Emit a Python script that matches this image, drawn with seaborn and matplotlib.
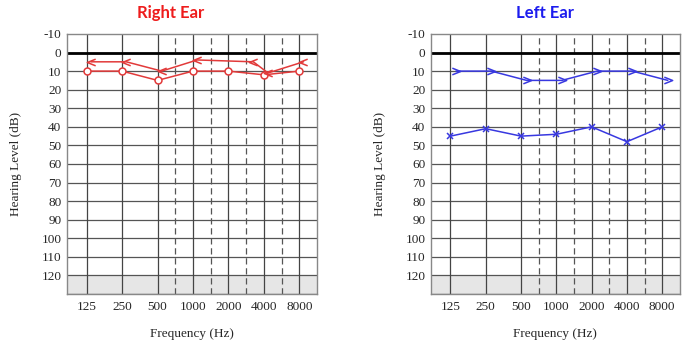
import numpy as np
import pandas as pd
import seaborn as sns
import matplotlib.pyplot as plt
import matplotlib.transforms as mtransforms
from matplotlib.path import Path

# audiogram data (dB HL)
freqs = [125, 250, 500, 1000, 2000, 4000, 8000]
freq_labels = ["125", "250", "500", "1000", "2000", "4000", "8000"]
db_ticks = list(range(-10, 130, 10))

right_air = [10, 10, 15, 10, 10, 12, 10]
right_bone_freqs = [125, 250, 500, 1000, 3000, 4000, 8000]
right_bone = [5, 5, 10, 4, 5, 11, 5]

left_air = [45, 41, 45, 44, 40, 48, 40]
left_bone_freqs = [125, 250, 500, 1000, 2000, 4000, 8000]
left_bone = [10, 10, 15, 15, 10, 10, 15]

RED = "#e23a3a"
BLUE = "#3838e0"

sns.set_style("white")
plt.rcParams['font.family'] = ['Liberation Serif', 'DejaVu Serif']

chev_left = Path([(1, 0.8), (-1, 0), (1, -0.8)], [Path.MOVETO, Path.LINETO, Path.LINETO])
chev_right = Path([(-1, 0.8), (1, 0), (-1, -0.8)], [Path.MOVETO, Path.LINETO, Path.LINETO])

fig = plt.figure(figsize=(6.85, 3.44), dpi=100)
ax_r = fig.add_axes([0.0978, 0.1453, 0.365, 0.756])
ax_l = fig.add_axes([0.629, 0.1453, 0.3635, 0.756])


def setup_axes(ax):
    ax.set_xscale('log', base=2)
    ax.set_xlim(125 / 2 ** 0.556, 8000 * 2 ** 0.5)
    ax.set_ylim(130, -10)
    ax.axhspan(120, 130, color='#e6e6e6', zorder=0, lw=0)
    for d in db_ticks[1:] + [130]:
        ax.axhline(d, color='#555555', lw=0.9, zorder=1)
    ax.axhline(0, color='black', lw=2, zorder=2)
    for f in freqs:
        ax.axvline(f, color='#444444', lw=0.9, zorder=1)
    # dashed lines half way between octaves
    for a, b in zip(freqs[2:-1], freqs[3:]):
        ax.axvline(np.sqrt(a * b), color='#555555', lw=0.9, ls=(0, (5, 3)), zorder=1)
    ax.set_xticks(freqs)
    ax.set_xticklabels(freq_labels)
    ax.minorticks_off()
    ax.set_yticks(db_ticks)
    ax.set_yticklabels([str(d) for d in db_ticks])
    ax.tick_params(length=0, labelsize=9.5, pad=4)
    ax.tick_params(axis='x', pad=5)
    for s in ax.spines.values():
        s.set_color('#888888')
        s.set_linewidth(1)
    ax.set_xlabel("Frequency (Hz)", fontsize=9.5, labelpad=11)
    ax.set_ylabel("Hearing Level (dB)", fontsize=9.5, labelpad=14)


def shift(ax, line, dx):
    off = mtransforms.ScaledTranslation(dx / 72, 0, fig.dpi_scale_trans)
    line.set_transform(line.get_transform() + off)


setup_axes(ax_r)
setup_axes(ax_l)

# right ear
df_ra = pd.DataFrame({"freq": freqs, "db": right_air})
sns.lineplot(data=df_ra, x="freq", y="db", ax=ax_r, color=RED, lw=1.1, marker='o',
             markersize=5, markerfacecolor='white', markeredgecolor=RED, markeredgewidth=1.1,
             sort=False, zorder=5)
df_rb = pd.DataFrame({"freq": right_bone_freqs, "db": right_bone})
sns.lineplot(data=df_rb, x="freq", y="db", ax=ax_r, color=RED, lw=1.1, marker=chev_left,
             markersize=6, markerfacecolor='none', markeredgecolor=RED, markeredgewidth=1.1,
             sort=False, zorder=5)
shift(ax_r, ax_r.lines[-1], 3)

# left ear
df_la = pd.DataFrame({"freq": freqs, "db": left_air})
sns.lineplot(data=df_la, x="freq", y="db", ax=ax_l, color=BLUE, lw=1.1, marker='x',
             markersize=5, markeredgecolor=BLUE, markeredgewidth=1.1, sort=False, zorder=5)
df_lb = pd.DataFrame({"freq": left_bone_freqs, "db": left_bone})
sns.lineplot(data=df_lb, x="freq", y="db", ax=ax_l, color=BLUE, lw=1.1, marker=chev_right,
             markersize=6, markerfacecolor='none', markeredgecolor=BLUE, markeredgewidth=1.1,
             sort=False, zorder=5)
shift(ax_l, ax_l.lines[-1], 4)

for ax in (ax_r, ax_l):
    ax.set_xlim(125 / 2 ** 0.556, 8000 * 2 ** 0.5)
    ax.set_ylim(130, -10)
    leg = ax.get_legend()
    if leg:
        leg.remove()

fig.text(0.249, 0.963, "Right Ear", color='#ee1c1c', fontsize=12, fontweight='bold',
         family=['Lato', 'DejaVu Sans'], ha='center', va='center')
fig.text(0.796, 0.963, "Left Ear", color='#1c1cee', fontsize=12, fontweight='bold',
         family=['Lato', 'DejaVu Sans'], ha='center', va='center')

fig.savefig("out.png", dpi=100)
